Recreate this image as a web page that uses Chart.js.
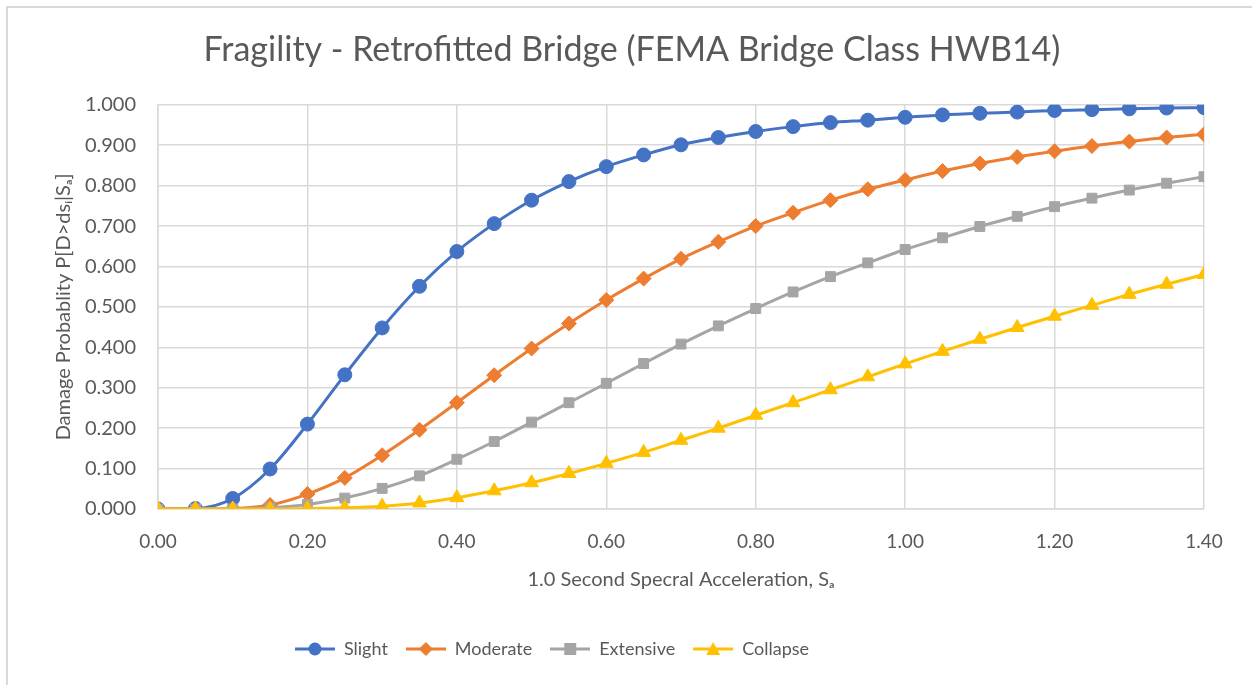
<!DOCTYPE html>
<html>
<head>
<meta charset="utf-8">
<script src="https://cdn.jsdelivr.net/npm/chart.js@4.4.1/dist/chart.umd.min.js"></script>
<style>
  body { margin: 0; background: #ffffff; overflow: hidden; }
  #wrap { position: relative; width: 1252px; height: 685px; }
  #frame { position: absolute; left: 6px; top: 6px; width: 1400px; height: 800px;
           border-left: 2px solid #d9d9d9; border-top: 2px solid #d9d9d9; }
  canvas { position: absolute; left: 0; top: 0; }
</style>
</head>
<body>
<div id="wrap">
  <div id="frame"></div>
  <canvas id="fragChart" width="1252" height="685"></canvas>
</div>
<script>
// spectral acceleration Sa (x values)
var sa = [0.00, 0.05, 0.10, 0.15, 0.20, 0.25, 0.30, 0.35, 0.40, 0.45,
          0.50, 0.55, 0.60, 0.65, 0.70, 0.75, 0.80, 0.85, 0.90, 0.95,
          1.00, 1.05, 1.10, 1.15, 1.20, 1.25, 1.30, 1.35, 1.40];

// damage probabilities
var slight = [0.000, 0.001, 0.026, 0.099, 0.210, 0.332, 0.448, 0.551, 0.637, 0.706,
              0.764, 0.810, 0.847, 0.876, 0.901, 0.919, 0.934, 0.946, 0.956, 0.962,
              0.969, 0.975, 0.979, 0.982, 0.986, 0.988, 0.990, 0.992, 0.993];
var moderate = [0.000, 0.000, 0.001, 0.010, 0.037, 0.077, 0.133, 0.196, 0.263, 0.331,
                0.397, 0.459, 0.517, 0.570, 0.619, 0.661, 0.700, 0.733, 0.764, 0.791,
                0.814, 0.836, 0.855, 0.871, 0.885, 0.898, 0.909, 0.919, 0.927];
var extensive = [0.000, 0.000, 0.000, 0.003, 0.011, 0.027, 0.051, 0.082, 0.123, 0.167,
                 0.215, 0.263, 0.311, 0.360, 0.408, 0.453, 0.496, 0.537, 0.575, 0.609,
                 0.642, 0.671, 0.699, 0.724, 0.748, 0.769, 0.789, 0.806, 0.822];
var collapse = [0.000, 0.000, 0.000, 0.000, 0.001, 0.003, 0.007, 0.015, 0.028, 0.045,
                0.065, 0.088, 0.113, 0.140, 0.170, 0.200, 0.232, 0.263, 0.295, 0.327,
                0.359, 0.390, 0.420, 0.449, 0.477, 0.504, 0.531, 0.556, 0.580];

var seriesNames = ["Slight", "Moderate", "Extensive", "Collapse"];
var seriesColors = ["#4472C4", "#ED7D31", "#A5A5A5", "#FFC000"];
var seriesMarkers = ["circle", "rectRot", "rect", "triangle"];
var seriesRadius = [7, 7.5, 7, 8];
var seriesData = [slight, moderate, extensive, collapse];

var textColor = "#595959";
var fontName = "Lato, 'Open Sans', sans-serif";

// legend icon = short line with the marker in the middle (like excel)
function legendIcon(color, marker){
    var c = document.createElement("canvas");
    c.width = 40;
    c.height = 18;
    var ctx = c.getContext("2d");
    ctx.strokeStyle = color;
    ctx.fillStyle = color;
    ctx.lineWidth = 3;
    ctx.beginPath();
    ctx.moveTo(0, 9);
    ctx.lineTo(40, 9);
    ctx.stroke();
    ctx.beginPath();
    if(marker === "circle"){
        ctx.arc(20, 9, 6.5, 0, Math.PI*2);
    }
    else if(marker === "rectRot"){
        ctx.moveTo(20, 2); ctx.lineTo(27, 9); ctx.lineTo(20, 16); ctx.lineTo(13, 9);
    }
    else if(marker === "rect"){
        ctx.rect(14, 3, 12, 12);
    }
    else {
        ctx.moveTo(20, 2); ctx.lineTo(27, 15); ctx.lineTo(13, 15);
    }
    ctx.closePath();
    ctx.fill();
    return c;
}

var datasets = [];
for(var i=0;i<seriesNames.length;i++){
    var pts = [];
    for(var j=0;j<sa.length;j++){
        pts.push({x: sa[j], y: seriesData[i][j]});
    }
    datasets.push({
        label: seriesNames[i],
        data: pts,
        borderColor: seriesColors[i],
        backgroundColor: seriesColors[i],
        borderWidth: 3,
        pointStyle: seriesMarkers[i],
        pointRadius: seriesRadius[i],
        pointBorderWidth: 1,
        pointBackgroundColor: seriesColors[i],
        pointBorderColor: seriesColors[i],
        cubicInterpolationMode: "monotone",
        order: seriesNames.length - i,   // collapse on top
        legendIcon: legendIcon(seriesColors[i], seriesMarkers[i])
    });
}

// excel puts the title a bit right and the legend a bit left of the middle
var shiftBoxes = {
    id: "shiftBoxes",
    afterLayout: function(chart){
        if(chart.titleBlock){
            chart.titleBlock.left += 20;
            chart.titleBlock.right += 20;
        }
        if(chart.legend){
            chart.legend.left -= 60;
            chart.legend.right -= 60;
        }
    }
};

var ctxF = document.getElementById("fragChart").getContext("2d");
var fragChart = new Chart(ctxF, {
    type: "line",
    data: { datasets: datasets },
    plugins: [shiftBoxes],
    options: {
        responsive: false,
        animation: false,
        layout: { padding: { left: 20, right: 48, top: 0, bottom: 17 } },
        plugins: {
            tooltip: { enabled: false },
            title: {
                display: true,
                text: "Fragility - Retrofitted Bridge (FEMA Bridge Class HWB14)",
                color: textColor,
                font: { family: fontName, size: 34, weight: "normal", lineHeight: 1.2 },
                padding: { top: 30, bottom: 34 }
            },
            legend: {
                position: "bottom",
                labels: {
                    color: textColor,
                    font: { family: fontName, size: 18 },
                    usePointStyle: true,
                    pointStyleWidth: 40,
                    padding: 18,
                    sort: function(a, b){ return a.datasetIndex - b.datasetIndex; },
                    generateLabels: function(chart){
                        return chart.data.datasets.map(function(ds, idx){
                            return {
                                text: ds.label,
                                fillStyle: ds.borderColor,
                                strokeStyle: ds.borderColor,
                                lineWidth: 0,
                                pointStyle: ds.legendIcon,
                                fontColor: textColor,
                                hidden: false,
                                datasetIndex: idx
                            };
                        });
                    }
                }
            }
        },
        scales: {
            x: {
                type: "linear",
                min: 0,
                max: 1.4,
                afterFit: function(scale){ scale.height = 113; },
                ticks: {
                    stepSize: 0.2,
                    color: textColor,
                    font: { family: fontName, size: 19 },
                    padding: 21,
                    callback: function(v){ return v.toFixed(2); }
                },
                grid: { color: "#d9d9d9", lineWidth: 1.5, drawTicks: false },
                border: { color: "#d9d9d9", width: 1.5 },
                title: {
                    display: true,
                    text: "1.0 Second Specral Acceleration, Sₐ",
                    color: textColor,
                    font: { family: fontName, size: 20, lineHeight: 1.2 },
                    padding: { top: 0, bottom: 30 }
                }
            },
            y: {
                min: 0,
                max: 1,
                afterFit: function(scale){ scale.width = 138; },
                ticks: {
                    stepSize: 0.1,
                    color: textColor,
                    font: { family: fontName, size: 20 },
                    padding: 22,
                    callback: function(v){ return v.toFixed(3); }
                },
                grid: { color: "#d9d9d9", lineWidth: 1.5, drawTicks: false },
                border: { color: "#d9d9d9", width: 1.5 },
                title: {
                    display: true,
                    text: "Damage Probablity P[D>dsᵢ|Sₐ]",
                    color: textColor,
                    font: { family: fontName, size: 20, lineHeight: 1.2 },
                    padding: { top: 32, bottom: 0 }
                }
            }
        }
    }
});
</script>
</body>
</html>
